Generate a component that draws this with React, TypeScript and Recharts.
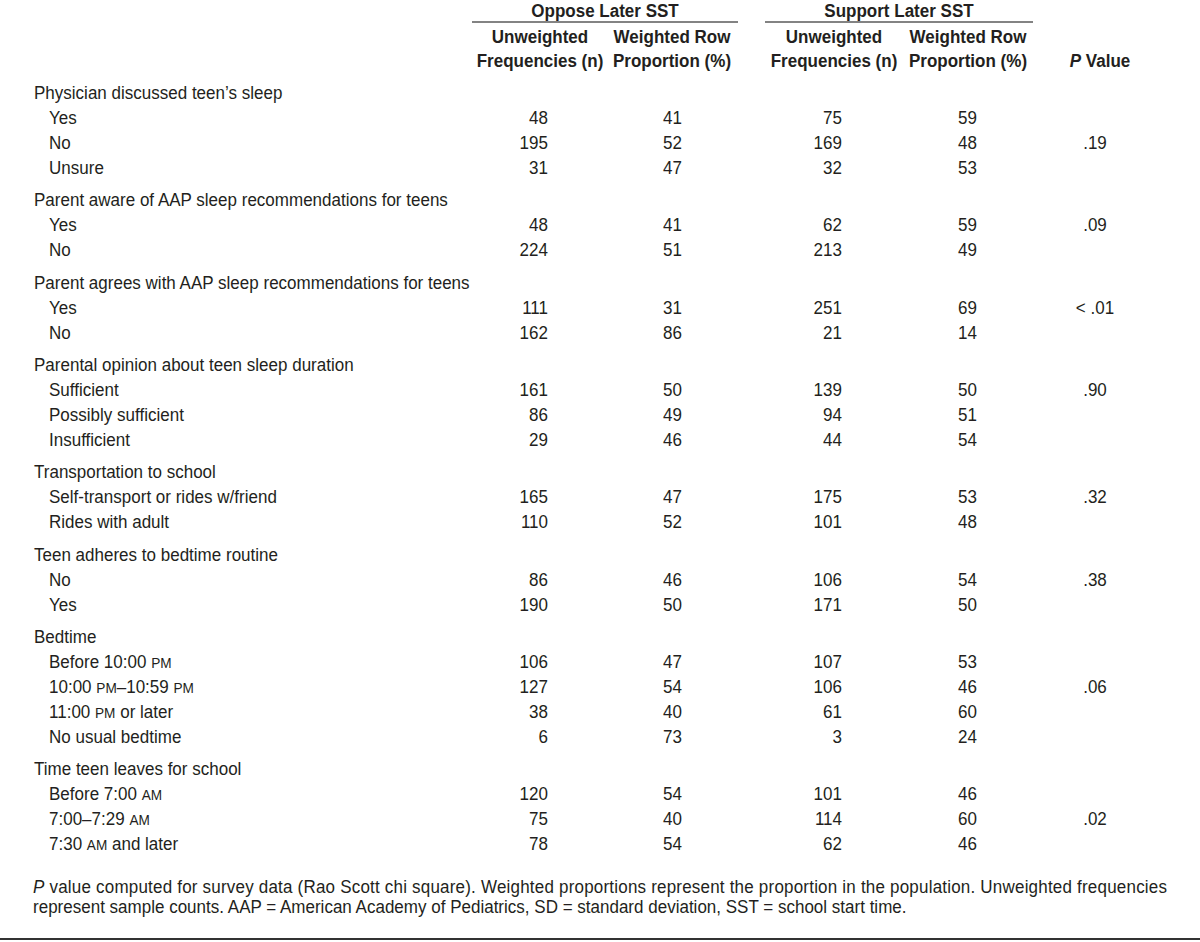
import { ComposedChart, Scatter, XAxis, YAxis, Customized } from 'recharts';

// ---- table content ----
const groupTitles = [
  'Physician discussed teen\u2019s sleep',
  'Parent aware of AAP sleep recommendations for teens',
  'Parent agrees with AAP sleep recommendations for teens',
  'Parental opinion about teen sleep duration',
  'Transportation to school',
  'Teen adheres to bedtime routine',
  'Bedtime',
  'Time teen leaves for school',
];

const groupItems = [
  ['Yes', 'No', 'Unsure'],
  ['Yes', 'No'],
  ['Yes', 'No'],
  ['Sufficient', 'Possibly sufficient', 'Insufficient'],
  ['Self-transport or rides w/friend', 'Rides with adult'],
  ['No', 'Yes'],
  ['Before 10:00 PM', '10:00 PM\u201310:59 PM', '11:00 PM or later', 'No usual bedtime'],
  ['Before 7:00 AM', '7:00\u20137:29 AM', '7:30 AM and later'],
];

const opposeN = [[48, 195, 31], [48, 224], [111, 162], [161, 86, 29], [165, 110], [86, 190], [106, 127, 38, 6], [120, 75, 78]];
const opposePct = [[41, 52, 47], [41, 51], [31, 86], [50, 49, 46], [47, 52], [46, 50], [47, 54, 40, 73], [54, 40, 54]];
const supportN = [[75, 169, 32], [62, 213], [251, 21], [139, 94, 44], [175, 101], [106, 171], [107, 106, 61, 3], [101, 114, 62]];
const supportPct = [[59, 48, 53], [59, 49], [69, 14], [50, 51, 54], [53, 48], [54, 50], [53, 46, 60, 24], [46, 60, 46]];
const pValues = ['.19', '.09', '< .01', '.90', '.32', '.38', '.06', '.02'];
const pValueRow = [1, 0, 0, 0, 0, 0, 1, 1];

const spanHeads = ['Oppose Later SST', 'Support Later SST'];
const colHeads = [
  ['Unweighted', 'Frequencies (n)'],
  ['Weighted Row', 'Proportion (%)'],
  ['Unweighted', 'Frequencies (n)'],
  ['Weighted Row', 'Proportion (%)'],
  ['', 'P Value'],
];
const footnote = [
  'P value computed for survey data (Rao Scott chi square). Weighted proportions represent the proportion in the population. Unweighted frequencies',
  'represent sample counts. AAP = American Academy of Pediatrics, SD = standard deviation, SST = school start time.',
];

// ---- layout ----
const W = 1200;
const H = 942;
const FONT = '"Liberation Sans", Arial, Helvetica, sans-serif';
const INK = '#231f20';
const FS = 18.5;
const SQUEEZE = 0.92; // the source face is a slightly condensed Helvetica
const GROUP_GAP = 0.3;
const GROUP_X = 34;
const ITEM_X = 49;
const colX = [548, 682, 842, 977, 1095];
const headX = [540, 672, 834, 968, 1100];
const spanX = [[472, 738], [765, 1033]];

type Row = { slot: number; label: string; group: boolean; vals?: number[]; p?: string };

const rows: Row[] = [];
let slot = 0;
groupTitles.forEach((title, g) => {
  if (g > 0) slot += GROUP_GAP;
  rows.push({ slot, label: title, group: true });
  slot += 1;
  groupItems[g].forEach((item, i) => {
    rows.push({
      slot,
      label: item,
      group: false,
      vals: [opposeN[g][i], opposePct[g][i], supportN[g][i], supportPct[g][i]],
      p: i === pValueRow[g] ? pValues[g] : undefined,
    });
    slot += 1;
  });
});

const labelData = rows.map((r) => ({ x: r.group ? GROUP_X : ITEM_X, y: r.slot, text: r.label }));
const itemRows = rows.filter((r) => !r.group);
const valueData = [0, 1, 2, 3].map((c) =>
  itemRows.map((r) => ({ x: colX[c], y: r.slot, text: String(r.vals![c]) }))
);
const pData = itemRows.filter((r) => r.p).map((r) => ({ x: colX[4], y: r.slot, text: r.p! }));

// AM / PM set in small caps
function withSmallCaps(s: string) {
  return s.split(/(AM|PM)/).map((part, i) =>
    part === 'AM' || part === 'PM' ? (
      <tspan key={i} fontSize={FS * 0.8}>{part}</tspan>
    ) : (
      <tspan key={i}>{part}</tspan>
    )
  );
}

// condensed text: draw at origin, then squeeze horizontally
function T(props: {
  x: number;
  y: number;
  anchor?: 'start' | 'middle' | 'end';
  bold?: boolean;
  dy?: string;
  textLength?: number;
  children: any;
}) {
  const { x, y, anchor = 'start', bold, dy, textLength, children } = props;
  return (
    <g transform={`translate(${x} ${y}) scale(${SQUEEZE} 1)`}>
      <text
        x={0}
        y={0}
        dy={dy}
        textAnchor={anchor}
        fontFamily={FONT}
        fontSize={FS}
        fontWeight={bold ? 'bold' : 'normal'}
        fill={INK}
        textLength={textLength}
        lengthAdjust={textLength ? 'spacing' : undefined}
      >
        {children}
      </text>
    </g>
  );
}

const textShape = (anchor: 'start' | 'middle' | 'end') => (props: any) => {
  const { cx, cy, payload } = props;
  return (
    <T x={cx} y={cy} dy="0.36em" anchor={anchor}>
      {withSmallCaps(payload.text)}
    </T>
  );
};

const HeaderTick = (props: any) => {
  const { x, index } = props;
  const lines = colHeads[index] || ['', ''];
  return (
    <g>
      {lines.map((ln, i) => (
        <T key={i} x={x} y={43 + i * 24} anchor="middle" bold>
          {ln === 'P Value' ? (
            <>
              <tspan fontStyle="italic">P</tspan> Value
            </>
          ) : (
            ln
          )}
        </T>
      ))}
    </g>
  );
};

const Decor = () => (
  <g>
    {spanHeads.map((t, i) => (
      <g key={t}>
        <T x={(spanX[i][0] + spanX[i][1]) / 2} y={17} anchor="middle" bold>
          {t}
        </T>
        <line x1={spanX[i][0]} x2={spanX[i][1]} y1={22} y2={22} stroke="#5a5a5a" strokeWidth={1.5} />
      </g>
    ))}
    <T x={33} y={893} textLength={1134 / SQUEEZE}>
      <tspan fontStyle="italic">P</tspan>
      {footnote[0].slice(1)}
    </T>
    <T x={33} y={913}>{footnote[1]}</T>
    <line x1={0} x2={W} y1={939} y2={939} stroke="#333" strokeWidth={2} />
  </g>
);

export default function App() {
  return (
    <div style={{ position: 'absolute', left: 0, top: 0, width: W, height: H, background: '#fff' }}>
      <ComposedChart width={W} height={H} margin={{ top: 0, right: 0, bottom: 86, left: 0 }}>
        <XAxis
          xAxisId={0}
          type="number"
          dataKey="x"
          domain={[0, W]}
          orientation="top"
          height={80}
          ticks={headX}
          interval={0}
          tick={<HeaderTick />}
          axisLine={false}
          tickLine={false}
          allowDataOverflow
        />
        <YAxis yAxisId={0} type="number" dataKey="y" domain={[-0.5, 30.6]} reversed hide allowDataOverflow />
        <Scatter data={labelData} shape={textShape('start')} isAnimationActive={false} />
        {valueData.map((d, c) => (
          <Scatter key={c} data={d} shape={textShape('end')} isAnimationActive={false} />
        ))}
        <Scatter data={pData} shape={textShape('middle')} isAnimationActive={false} />
        <Customized component={Decor} />
      </ComposedChart>
    </div>
  );
}
